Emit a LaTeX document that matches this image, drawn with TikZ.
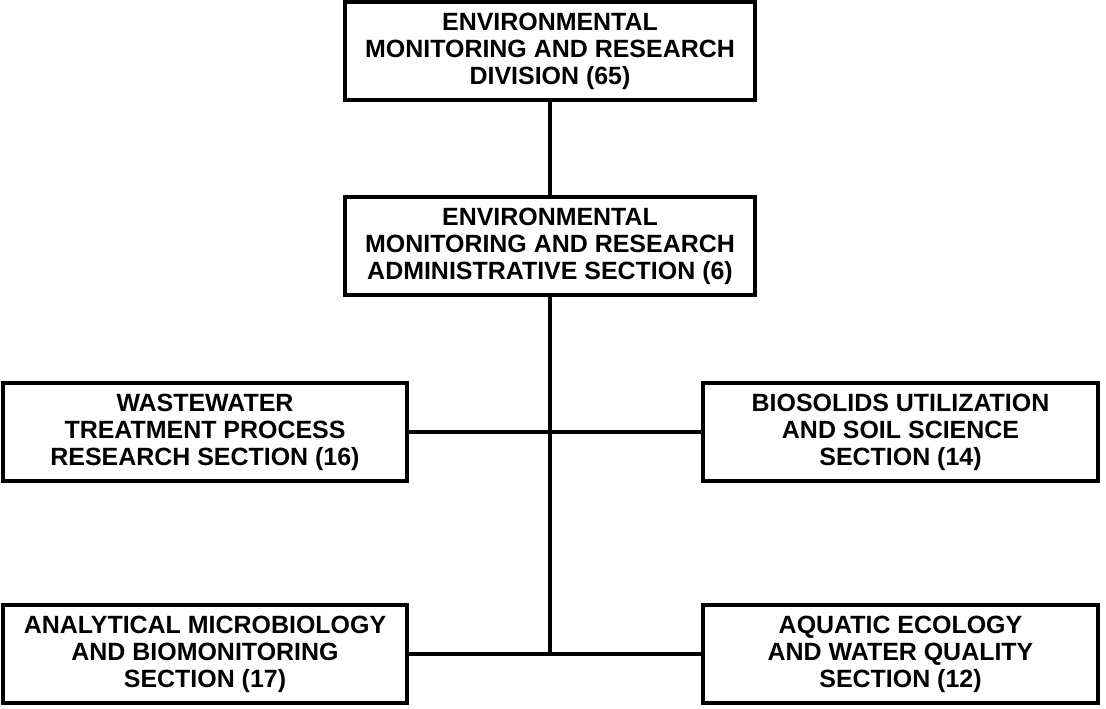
\documentclass[tikz,border=0pt]{standalone}
\usepackage{fontspec}
\setmainfont{Liberation Sans}
\usepackage{tikz}
\usetikzlibrary{positioning}

\begin{document}
\begin{tikzpicture}[
  unit/.style={draw, line width=2.2pt, rectangle, align=center, inner sep=0pt,
    minimum height=1.96cm, font=\bfseries\fontsize{14.2}{15.4}\selectfont},
  link/.style={line width=2.2pt}]
  \useasboundingbox (0,0) rectangle (22.12,-14.18);

  \node[unit, minimum width=8.2cm] (div) at (11.0,-1.02) {ENVIRONMENTAL\\MONITORING AND RESEARCH\\DIVISION (65)};
  \node[unit, minimum width=8.2cm] (admin) at (11.0,-4.92) {ENVIRONMENTAL\\MONITORING AND RESEARCH\\ADMINISTRATIVE SECTION (6)};

  \node[unit, minimum width=8.08cm] (wwt) at (4.1,-8.64) {WASTEWATER\\TREATMENT PROCESS\\RESEARCH SECTION (16)};
  \node[unit, minimum width=7.9cm] (bio) at (18.01,-8.64) {BIOSOLIDS UTILIZATION\\AND SOIL SCIENCE\\SECTION (14)};

  \node[unit, minimum width=8.08cm] (micro) at (4.1,-13.08) {ANALYTICAL MICROBIOLOGY\\AND BIOMONITORING\\SECTION (17)};
  \node[unit, minimum width=7.9cm] (aqua) at (18.01,-13.08) {AQUATIC ECOLOGY\\AND WATER QUALITY\\SECTION (12)};

  % trunk
  \coordinate (base) at (admin.south |- micro.east);
  \draw[link] (div) -- (admin);
  \draw[link] (admin) -- (base);

  % branches
  \draw[link] (wwt) -- (bio);
  \draw[link] (micro) -- (aqua);
\end{tikzpicture}
\end{document}
